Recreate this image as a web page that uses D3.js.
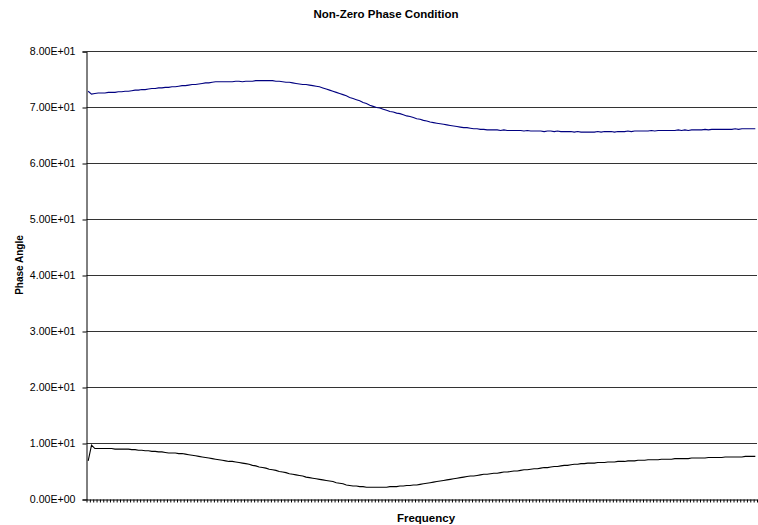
<!DOCTYPE html>
<html>
<head>
<meta charset="utf-8">
<script src="https://cdn.jsdelivr.net/npm/d3@7"></script>
<style>
  html, body { margin: 0; padding: 0; background: #fff; }
  svg { display: block; }
  text { font-family: "Liberation Sans", Arial, sans-serif; }
</style>
</head>
<body>
<svg id="chart" width="758" height="525"></svg>
<script>
// Phase angle of the two measured channels, one value per frequency step
const upperPhase = [
  72.9, 72.4, 72.5, 72.6, 72.6, 72.6, 72.7, 72.7, 72.7, 72.8,
  72.8, 72.9, 72.9, 73.0, 73.1, 73.1, 73.2, 73.2, 73.3, 73.4,
  73.4, 73.5, 73.5, 73.6, 73.6, 73.7, 73.7, 73.8, 73.9, 73.9,
  74.0, 74.1, 74.1, 74.2, 74.3, 74.4, 74.4, 74.5, 74.6, 74.6,
  74.6, 74.6, 74.6, 74.6, 74.7, 74.7, 74.6, 74.7, 74.7, 74.7,
  74.8, 74.8, 74.8, 74.8, 74.8, 74.8, 74.7, 74.7, 74.6, 74.5,
  74.5, 74.4, 74.3, 74.2, 74.1, 74.1, 74.0, 73.9, 73.8, 73.7,
  73.5, 73.3, 73.1, 72.9, 72.7, 72.5, 72.3, 72.1, 71.8, 71.6,
  71.4, 71.2, 70.9, 70.7, 70.4, 70.2, 70.0, 69.9, 69.7, 69.5,
  69.3, 69.2, 69.0, 68.9, 68.7, 68.5, 68.4, 68.2, 68.0, 67.9,
  67.7, 67.6, 67.4, 67.3, 67.2, 67.1, 67.0, 66.9, 66.8, 66.7,
  66.6, 66.5, 66.4, 66.4, 66.3, 66.2, 66.2, 66.1, 66.1, 66.0,
  66.0, 66.0, 66.0, 65.9, 66.0, 65.9, 65.9, 65.9, 65.9, 65.9,
  65.8, 65.9, 65.8, 65.8, 65.8, 65.8, 65.7, 65.8, 65.8, 65.7,
  65.8, 65.7, 65.7, 65.7, 65.7, 65.6, 65.7, 65.6, 65.6, 65.6,
  65.6, 65.6, 65.7, 65.6, 65.7, 65.7, 65.7, 65.6, 65.7, 65.7,
  65.7, 65.8, 65.7, 65.8, 65.8, 65.8, 65.8, 65.8, 65.9, 65.8,
  65.9, 65.9, 65.9, 65.9, 65.9, 65.9, 66.0, 65.9, 66.0, 65.9,
  66.0, 66.0, 66.0, 66.0, 66.1, 66.0, 66.1, 66.1, 66.1, 66.1,
  66.1, 66.1, 66.1, 66.2, 66.1, 66.2, 66.2, 66.2, 66.2, 66.2
];

const lowerPhase = [
  6.9, 9.7, 9.1, 9.1, 9.1, 9.1, 9.1, 9.1, 9.0, 9.0,
  9.0, 9.0, 9.0, 8.9, 8.9, 8.8, 8.8, 8.7, 8.7, 8.6,
  8.6, 8.5, 8.5, 8.4, 8.3, 8.3, 8.3, 8.2, 8.2, 8.1,
  8.0, 7.9, 7.8, 7.7, 7.6, 7.5, 7.4, 7.3, 7.2, 7.1,
  7.0, 6.9, 6.8, 6.8, 6.7, 6.6, 6.5, 6.4, 6.3, 6.1,
  6.0, 5.8, 5.7, 5.6, 5.4, 5.3, 5.2, 5.0, 4.9, 4.8,
  4.6, 4.5, 4.4, 4.3, 4.2, 4.0, 3.9, 3.8, 3.7, 3.6,
  3.5, 3.4, 3.3, 3.2, 3.0, 2.9, 2.8, 2.6, 2.5, 2.4,
  2.4, 2.3, 2.3, 2.2, 2.2, 2.2, 2.2, 2.2, 2.2, 2.2,
  2.3, 2.3, 2.3, 2.4, 2.4, 2.5, 2.5, 2.6, 2.6, 2.7,
  2.8, 2.9, 3.0, 3.1, 3.2, 3.3, 3.4, 3.5, 3.6, 3.7,
  3.8, 3.9, 4.0, 4.1, 4.2, 4.2, 4.3, 4.4, 4.5, 4.5,
  4.6, 4.7, 4.7, 4.8, 4.9, 4.9, 5.0, 5.1, 5.1, 5.2,
  5.3, 5.3, 5.4, 5.5, 5.5, 5.6, 5.7, 5.7, 5.8, 5.9,
  5.9, 6.0, 6.1, 6.1, 6.2, 6.3, 6.3, 6.4, 6.4, 6.5,
  6.5, 6.5, 6.6, 6.6, 6.6, 6.7, 6.7, 6.7, 6.8, 6.8,
  6.8, 6.9, 6.9, 6.9, 7.0, 7.0, 7.0, 7.1, 7.1, 7.1,
  7.1, 7.2, 7.2, 7.2, 7.2, 7.3, 7.3, 7.3, 7.3, 7.3,
  7.4, 7.4, 7.4, 7.4, 7.4, 7.5, 7.5, 7.5, 7.5, 7.5,
  7.6, 7.6, 7.6, 7.6, 7.6, 7.6, 7.7, 7.7, 7.7, 7.7
];

// Frequency steps (unlabelled category axis)
const frequencySteps = upperPhase.map((_, i) => i);

// Phase-angle gridline values
const yTicks = [0, 10, 20, 30, 40, 50, 60, 70, 80];

const titleText = "Non-Zero Phase Condition";
const xTitle = "Frequency";
const yTitle = "Phase Angle";

const svg = d3.select("#chart");
const plot = { left: 86.5, right: 757, top: 51.5, bottom: 499.5 };

// category boundaries: one tick between each frequency step
const x = d3.scaleLinear()
  .domain([0, frequencySteps.length])
  .range([plot.left, plot.right]);

const y = d3.scaleLinear()
  .domain([0, 80])
  .range([plot.bottom, plot.top]);

// Scientific labels in the style 8.00E+01
const sci = v => {
  const [m, e] = v.toExponential(2).split("e");
  const n = parseInt(e, 10);
  return m + "E" + (n < 0 ? "-" : "+") + String(Math.abs(n)).padStart(2, "0");
};

// horizontal gridlines
svg.append("g")
  .selectAll("line")
  .data(yTicks.filter(d => d > 0))
  .join("line")
  .attr("x1", plot.left)
  .attr("x2", plot.right)
  .attr("y1", d => y(d))
  .attr("y2", d => y(d))
  .attr("stroke", "#333")
  .attr("stroke-width", 1);

// y axis
const yAxis = svg.append("g")
  .attr("transform", `translate(${plot.left},0)`)
  .call(d3.axisLeft(y).tickValues(yTicks).tickFormat(sci).tickSize(4).tickPadding(7));
yAxis.select(".domain").attr("stroke", "#000");
yAxis.selectAll(".tick line").attr("stroke", "#000");
yAxis.selectAll("text")
  .attr("font-size", "10.6px")
  .attr("fill", "#000")
  .attr("font-family", "Liberation Sans, Arial, sans-serif");

// x axis with a tick at every category boundary
const xAxis = svg.append("g")
  .attr("transform", `translate(0,${plot.bottom})`)
  .call(d3.axisBottom(x)
    .tickValues(d3.range(frequencySteps.length + 1))
    .tickFormat("")
    .tickSize(3)
    .tickSizeOuter(0));
xAxis.select(".domain").attr("stroke", "#000");
xAxis.selectAll(".tick line").attr("stroke", "#000");

// the two phase curves, points at category centres
const line = d3.line()
  .x((d, i) => x(frequencySteps[i] + 0.5))
  .y(d => y(d));

svg.append("path")
  .datum(upperPhase)
  .attr("d", line)
  .attr("fill", "none")
  .attr("stroke", "#000080")
  .attr("stroke-width", 1.1);

svg.append("path")
  .datum(lowerPhase)
  .attr("d", line)
  .attr("fill", "none")
  .attr("stroke", "#000")
  .attr("stroke-width", 1.1);

// titles
svg.append("text")
  .attr("x", 386)
  .attr("y", 18)
  .attr("text-anchor", "middle")
  .attr("font-size", "11.5px")
  .attr("font-weight", "bold")
  .text(titleText);

svg.append("text")
  .attr("x", 426)
  .attr("y", 521.5)
  .attr("text-anchor", "middle")
  .attr("font-size", "11.5px")
  .attr("font-weight", "bold")
  .text(xTitle);

svg.append("text")
  .attr("transform", "translate(23,265) rotate(-90)")
  .attr("text-anchor", "middle")
  .attr("font-size", "10px")
  .attr("font-weight", "bold")
  .text(yTitle);
</script>
</body>
</html>
